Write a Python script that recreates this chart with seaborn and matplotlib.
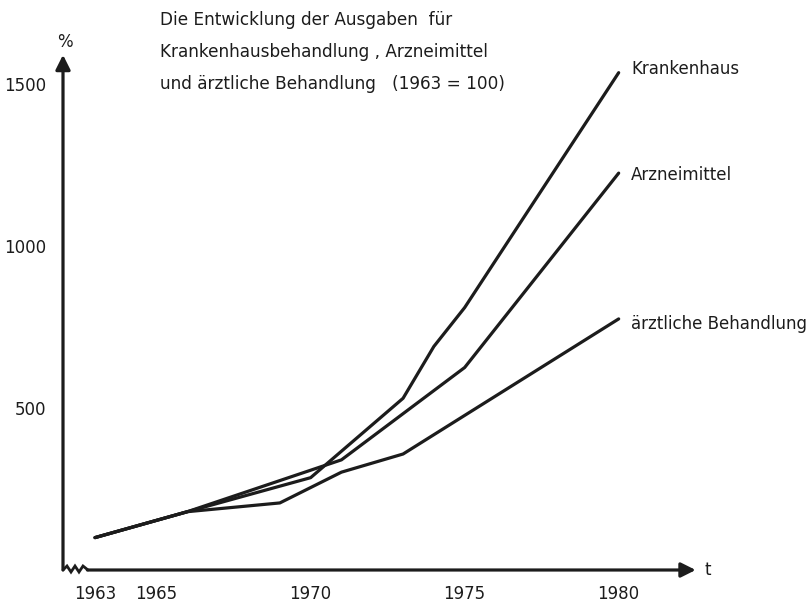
"""plot.py — Ausgabenentwicklung (1963 = 100), nachgezeichnet mit seaborn."""

import numpy as np
import pandas as pd
import matplotlib
matplotlib.use("Agg")
import matplotlib.pyplot as plt
import seaborn as sns

# Werte (Index, 1963 = 100)
jahre_krankenhaus = [1963, 1966, 1970, 1973, 1974, 1975, 1980]
werte_krankenhaus = [100, 180, 285, 530, 690, 810, 1535]

jahre_arznei = [1963, 1966, 1971, 1975, 1980]
werte_arznei = [100, 180, 340, 625, 1225]

jahre_aerztl = [1963, 1966, 1969, 1971, 1973, 1980]
werte_aerztl = [100, 180, 207, 302, 358, 775]

reihen = ["Krankenhaus", "Arzneimittel", "ärztliche Behandlung"]
x_ticks = [1963, 1965, 1970, 1975, 1980]
y_ticks = [500, 1000, 1500]

titel = [
    "Die Entwicklung der Ausgaben  für",
    "Krankenhausbehandlung , Arzneimittel",
    "und ärztliche Behandlung   (1963 = 100)",
]

INK = "#1c1c1c"

df = pd.concat([
    pd.DataFrame({"Jahr": jahre_krankenhaus, "Index": werte_krankenhaus, "Bereich": reihen[0]}),
    pd.DataFrame({"Jahr": jahre_arznei, "Index": werte_arznei, "Bereich": reihen[1]}),
    pd.DataFrame({"Jahr": jahre_aerztl, "Index": werte_aerztl, "Bereich": reihen[2]}),
], ignore_index=True)

sns.set_theme(style="white")
plt.rcParams["font.family"] = ["DejaVu Sans"]

fig = plt.figure(figsize=(8.12, 6.08), dpi=100)
ax = fig.add_axes([63 / 812, 38 / 608, 637 / 812, 520 / 608])

sns.lineplot(
    data=df, x="Jahr", y="Index", hue="Bereich",
    palette=[INK] * 3, linewidth=2.3, legend=False, sort=False, ax=ax,
)

x0, x1 = 1961.96, 1982.64
ax.set_xlim(x0, x1)
ax.set_ylim(0, 1605)

for s in ax.spines.values():
    s.set_visible(False)

# Achsen mit Pfeilspitzen
ax.annotate("", xy=(x0, 1590), xytext=(x0, 0),
            arrowprops=dict(arrowstyle="-|>", lw=2.3, color=INK, mutation_scale=22,
                            shrinkA=0, shrinkB=0))
ax.annotate("", xy=(1982.5, 0), xytext=(1962.75, 0),
            arrowprops=dict(arrowstyle="-|>", lw=2.3, color=INK, mutation_scale=22,
                            shrinkA=0, shrinkB=0))
# Achsenbruch (Zickzack) links unten
zx = x0 + np.array([0, 4, 8, 12, 16, 20, 25]) / 30.8
zy = np.array([0, 4, -2, 4, -2, 4, 0]) * 3.09
ax.plot(zx, zy, color=INK, lw=2.0, clip_on=False, solid_joinstyle="miter")

ax.text(x0 + 0.05, 1630, "%", ha="center", va="center", fontsize=12, color=INK)
ax.text(x1 + 0.15, 0, "t", ha="left", va="center", fontsize=12, color=INK)

ax.set_xticks(x_ticks)
ax.set_yticks(y_ticks)
ax.tick_params(axis="both", length=5, width=2, color=INK, labelcolor=INK,
               labelsize=12, direction="out")
ax.tick_params(axis="x", pad=6)
ax.tick_params(axis="y", pad=7)
ax.set_xlabel("")
ax.set_ylabel("")

# Beschriftungen an den Linienenden
ends = [(jahre_krankenhaus[-1], werte_krankenhaus[-1] + 10),
        (jahre_arznei[-1], werte_arznei[-1] - 5),
        (jahre_aerztl[-1], werte_aerztl[-1] - 15)]
for name, (ex, ey) in zip(reihen, ends):
    ax.text(ex + 0.4, ey, name, ha="left", va="center", fontsize=12, color=INK)

for i, zeile in enumerate(titel):
    fig.text(160 / 812, 1 - (20 + 32 * i) / 608, zeile, ha="left", va="center",
             fontsize=12.2, color=INK)

fig.savefig("out.png", dpi=100, facecolor="white")
